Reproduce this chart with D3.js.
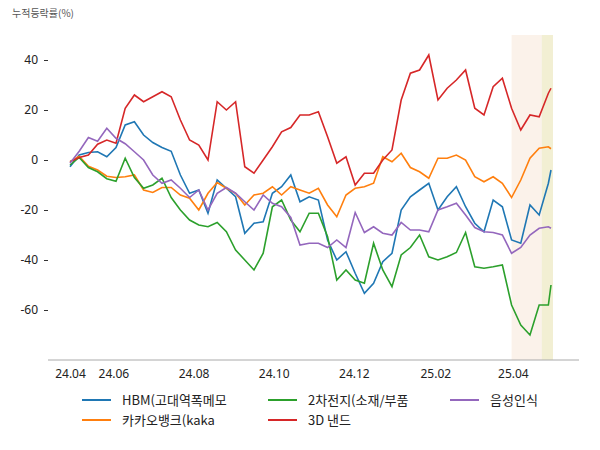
<!DOCTYPE html>
<html><head><meta charset="utf-8">
<script src="https://cdn.jsdelivr.net/npm/d3@7"></script>
<style>body{margin:0;background:#fff}text{font-family:"Noto Sans CJK KR","Noto Sans",sans-serif}</style>
</head><body><svg id="c" width="600" height="450"></svg>
<script>
const startDate = "2024-04-29";
const endDate = "2025-04-30";
const weeks = 53; // weekly samples + final day
const seriesNames = ["HBM(고대역폭메모", "카카오뱅크(kaka", "2차전지(소재/부품", "3D 낸드", "음성인식"];
const colors = ["#1f77b4", "#ff7f0e", "#2ca02c", "#d62728", "#9467bd"];
const hbm = [-2.7,2,3,3.3,1.3,5,14,15.3,10,7,5,3.5,-6,-13.3,-12,-21.3,-8,-11.3,-14.7,-29.3,-25.3,-24.7,-13.3,-10.7,-6,-16.7,-14.7,-16,-32,-40,-36.7,-45.3,-53.3,-49.3,-40.7,-37.3,-20,-14.7,-12,-9.3,-20,-14.7,-10.7,-18.7,-25.3,-28.7,-16,-18.7,-32,-33.3,-18,-22,-9.3,-4];
const kakao = [-0.7,1.5,-2.5,-4,-6.5,-7,-6.7,-6,-12,-13,-11,-11,-14,-15.3,-20,-13.3,-9,-11.3,-13.3,-18,-14,-13.3,-10.7,-14,-10.7,-12,-13.3,-11.3,-18,-22.7,-14,-11.3,-10.7,-9.3,1.3,-0.7,2.7,-3,-4.7,-7.3,0.7,0.7,2,0,-6.7,-8.7,-6.7,-9.3,-15,-8,0.7,4.7,5.3,4.5];
const battery = [-2,1,-3,-4.7,-7.5,-8.5,0.7,-7,-11.3,-10,-7.3,-15,-20,-24,-26,-26.7,-25,-28.7,-36,-40,-44,-37.3,-18.7,-16,-24,-28.7,-21.3,-21.3,-30.7,-48,-44,-48,-49.3,-33.3,-44,-50.7,-38,-35,-30,-38.7,-40,-38.7,-37,-29,-42.7,-43.3,-42.7,-42,-58,-66,-70,-58,-58,-50];
const nand = [-0.7,1,2,6.3,8,6.7,20.7,26,23.3,25.3,27.3,25.3,16,8,6,0,23.3,20,23.3,-2.7,-5.3,0,5.3,11.3,13,18,18,19.3,9.3,-1.3,1.3,-10,-5.3,-5.3,0,4,24,34.7,36,42,24,28.7,32,36,20.7,18,29.3,32.7,20.7,12,18,17.3,26.7,28.7];
const voice = [-1.3,3.5,9,7.5,12.7,8.7,6.5,3.3,0,-6,-9.3,-8,-11.3,-15,-12,-20,-13.3,-11,-13.3,-16.7,-20,-14,-17.3,-18.7,-23,-34,-33.3,-33.3,-35,-32,-35,-21,-29,-26.7,-29.3,-30,-25,-28,-28,-28.7,-20,-18.7,-17.3,-22,-27,-28.7,-29,-30,-37.3,-35,-30,-27.3,-26.7,-27.3];
const allSeries = [hbm, kakao, battery, nand, voice];
const tickDates = ["2024-04-29","2024-06-01","2024-08-01","2024-10-01","2024-12-01","2025-02-01","2025-04-01"];
const tickLabels = ["24.04","24.06","24.08","24.10","24.12","25.02","25.04"];
const yTicks = [-60,-40,-20,0,20,40];
const shade1 = ["2025-03-31","2025-04-23"];
const shade2 = ["2025-04-23","2025-04-30"];

const parse = d3.timeParse("%Y-%m-%d");
const t0 = parse(startDate);
const dates = d3.range(weeks).map(k => d3.timeDay.offset(t0, 7*k)).concat([parse(endDate)]);
const svg = d3.select("#c");
const x = d3.scaleTime().domain([t0, parse(endDate)]).range([70, 551]);
const y = d3.scaleLinear().domain([-80, 50]).range([360, 35]);

svg.append("text").attr("x", 12).attr("y", 17).attr("font-size", 10).attr("fill", "#555").text("누적등락률(%)");

svg.append("rect").attr("x", x(parse(shade1[0]))).attr("y", y(50)).attr("width", x(parse(shade1[1]))-x(parse(shade1[0]))).attr("height", y(-80)-y(50)).attr("fill", "#f8eadc").attr("opacity", 0.6);
svg.append("rect").attr("x", x(parse(shade2[0]))).attr("y", y(50)).attr("width", x(parse(shade2[1]))-x(parse(shade2[0]))+2).attr("height", y(-80)-y(50)).attr("fill", "#efebc8").attr("opacity", 0.8);

const ya = svg.append("g").attr("transform", "translate(48,0)").call(d3.axisLeft(y).tickValues(yTicks).tickFormat(d => String(d)).tickSize(4).tickPadding(6));
ya.select(".domain").remove();
ya.selectAll("text").attr("font-size", 12).attr("fill", "#222").style("font-family", "'Noto Sans',sans-serif");
ya.selectAll("line").attr("stroke", "#333");

const xa = svg.append("g").attr("transform", "translate(0,360)").call(d3.axisBottom(x).tickValues(tickDates.map(parse)).tickFormat((d,i) => tickLabels[i]).tickSize(0).tickPadding(9));
xa.select(".domain").attr("stroke", "#aaa").attr("d", "M48,0H579");
xa.selectAll("text").attr("font-size", 12).attr("fill", "#222").style("font-family", "'Noto Sans',sans-serif");

const line = d3.line().x((d,i) => x(dates[i])).y(d => y(d));
allSeries.forEach((s, i) => {
  svg.append("path").datum(s).attr("d", line).attr("fill", "none").attr("stroke", colors[i]).attr("stroke-width", 1.6);
});

const legPos = [[82,400],[82,420],[268,400],[268,420],[450,400]];
seriesNames.forEach((n, i) => {
  const g = svg.append("g").attr("transform", `translate(${legPos[i][0]},${legPos[i][1]})`);
  g.append("line").attr("x1", 0).attr("x2", 29).attr("stroke", colors[i]).attr("stroke-width", 2);
  g.append("text").attr("x", 40).attr("y", 5).attr("font-size", 13).attr("fill", "#222").text(n);
});
</script></body></html>
